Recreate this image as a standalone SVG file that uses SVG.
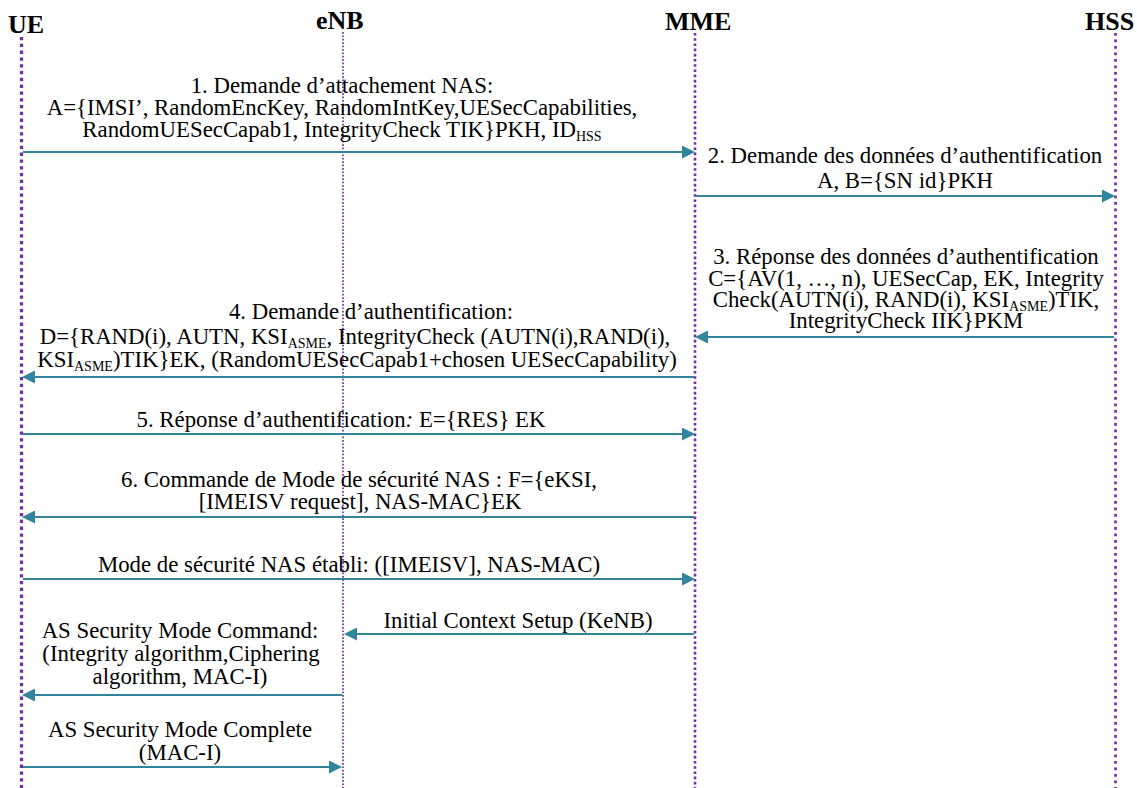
<svg xmlns="http://www.w3.org/2000/svg" width="1137" height="788" viewBox="0 0 1137 788">
<style>
.hdr{font-family:"Liberation Serif","Times New Roman",serif;font-weight:bold;font-size:26px;fill:#000}
.lbl{font-family:"Liberation Serif","Times New Roman",serif;font-size:22.8px;fill:#000;text-anchor:middle}
.sub{font-size:14px}
.life{fill:none;stroke:#7030A0}
.msg{fill:none;stroke:#31849B;stroke-width:2;marker-end:url(#ah)}
</style>
<defs>
<marker id="ah" markerUnits="userSpaceOnUse" markerWidth="13" markerHeight="13" refX="3" refY="6.5" orient="auto" viewBox="0 0 13 13">
<path d="M0,0 L13,6.5 L0,13 z" fill="#31849B"/>
</marker>
</defs>
<rect width="1137" height="788" fill="#fff"/>
<g id="ue">
<text class="hdr" x="8" y="33">UE</text>
<line class="life" x1="21.5" y1="37" x2="21.5" y2="788" stroke-width="3.3" stroke-dasharray="3.3 3.5"/>
</g>
<g id="enb">
<text class="hdr" x="316" y="29">eNB</text>
<line class="life" x1="343" y1="32" x2="343" y2="788" stroke-width="1.7" stroke-dasharray="1.7 1.7"/>
</g>
<g id="mme">
<text class="hdr" x="665" y="30">MME</text>
<line class="life" x1="695" y1="33" x2="695" y2="788" stroke-width="2.6" stroke-dasharray="2.6 2.6"/>
</g>
<g id="hss">
<text class="hdr" x="1085" y="30">HSS</text>
<line class="life" x1="1115.5" y1="33" x2="1115.5" y2="788" stroke-width="2.7" stroke-dasharray="2.7 3.8"/>
</g>
<g id="connectors">
<g id="m1">
<line class="msg" x1="23" y1="152" x2="685" y2="152"/>
<text class="lbl" x="342" y="93">1. Demande d’attachement NAS:</text>
<text class="lbl" x="342" y="115">A={IMSI’, RandomEncKey, RandomIntKey,UESecCapabilities,</text>
<text class="lbl" x="342" y="137">RandomUESecCapab1, IntegrityCheck TIK}PKH, ID<tspan class="sub" dy="4">HSS</tspan></text>
</g>
<g id="m2">
<line class="msg" x1="696" y1="196" x2="1105" y2="196"/>
<text class="lbl" x="905" y="163">2. Demande des données d’authentification</text>
<text class="lbl" x="905" y="188">A, B={SN id}PKH</text>
</g>
<g id="m3">
<line class="msg" x1="1114" y1="337" x2="705" y2="337"/>
<text class="lbl" x="906" y="264">3. Réponse des données d’authentification</text>
<text class="lbl" x="906" y="286">C={AV(1, …, n), UESecCap, EK, Integrity</text>
<text class="lbl" x="906" y="307">Check(AUTN(i), RAND(i), KSI<tspan class="sub" dy="4">ASME</tspan><tspan dy="-4">)TIK,</tspan></text>
<text class="lbl" x="906" y="328">IntegrityCheck IIK}PKM</text>
</g>
<g id="m4">
<line class="msg" x1="694" y1="377" x2="32" y2="377"/>
<text class="lbl" x="371" y="319">4. Demande d’authentification:</text>
<text class="lbl" x="355" y="344">D={RAND(i), AUTN, KSI<tspan class="sub" dy="4">ASME</tspan><tspan dy="-4">, IntegrityCheck (AUTN(i),RAND(i),</tspan></text>
<text class="lbl" x="357" y="367">KSI<tspan class="sub" dy="4">ASME</tspan><tspan dy="-4">)TIK}EK, (RandomUESecCapab1+chosen UESecCapability)</tspan></text>
</g>
<g id="m5">
<line class="msg" x1="23" y1="434" x2="685" y2="434"/>
<text class="lbl" x="341" y="427">5. Réponse d’authentification<tspan font-style="italic">:</tspan> E={RES} EK</text>
</g>
<g id="m6">
<line class="msg" x1="694" y1="517" x2="32" y2="517"/>
<text class="lbl" x="359" y="487">6. Commande de Mode de sécurité NAS : F={eKSI,</text>
<text class="lbl" x="360" y="509">[IMEISV request], NAS-MAC}EK</text>
</g>
<g id="m7">
<line class="msg" x1="23" y1="579" x2="685" y2="579"/>
<text class="lbl" x="349" y="572">Mode de sécurité NAS établi: ([IMEISV], NAS-MAC)</text>
</g>
<g id="m8">
<line class="msg" x1="694" y1="634" x2="354" y2="634"/>
<text class="lbl" x="518" y="628">Initial Context Setup (KeNB)</text>
</g>
<g id="m9">
<line class="msg" x1="342" y1="695" x2="32" y2="695"/>
<text class="lbl" x="180" y="638">AS Security Mode Command:</text>
<text class="lbl" x="181" y="661">(Integrity algorithm,Ciphering</text>
<text class="lbl" x="180" y="684">algorithm, MAC-I)</text>
</g>
<g id="m10">
<line class="msg" x1="23" y1="767" x2="332" y2="767"/>
<text class="lbl" x="180" y="737">AS Security Mode Complete</text>
<text class="lbl" x="180" y="760">(MAC-I)</text>
</g>
</g>
</svg>
